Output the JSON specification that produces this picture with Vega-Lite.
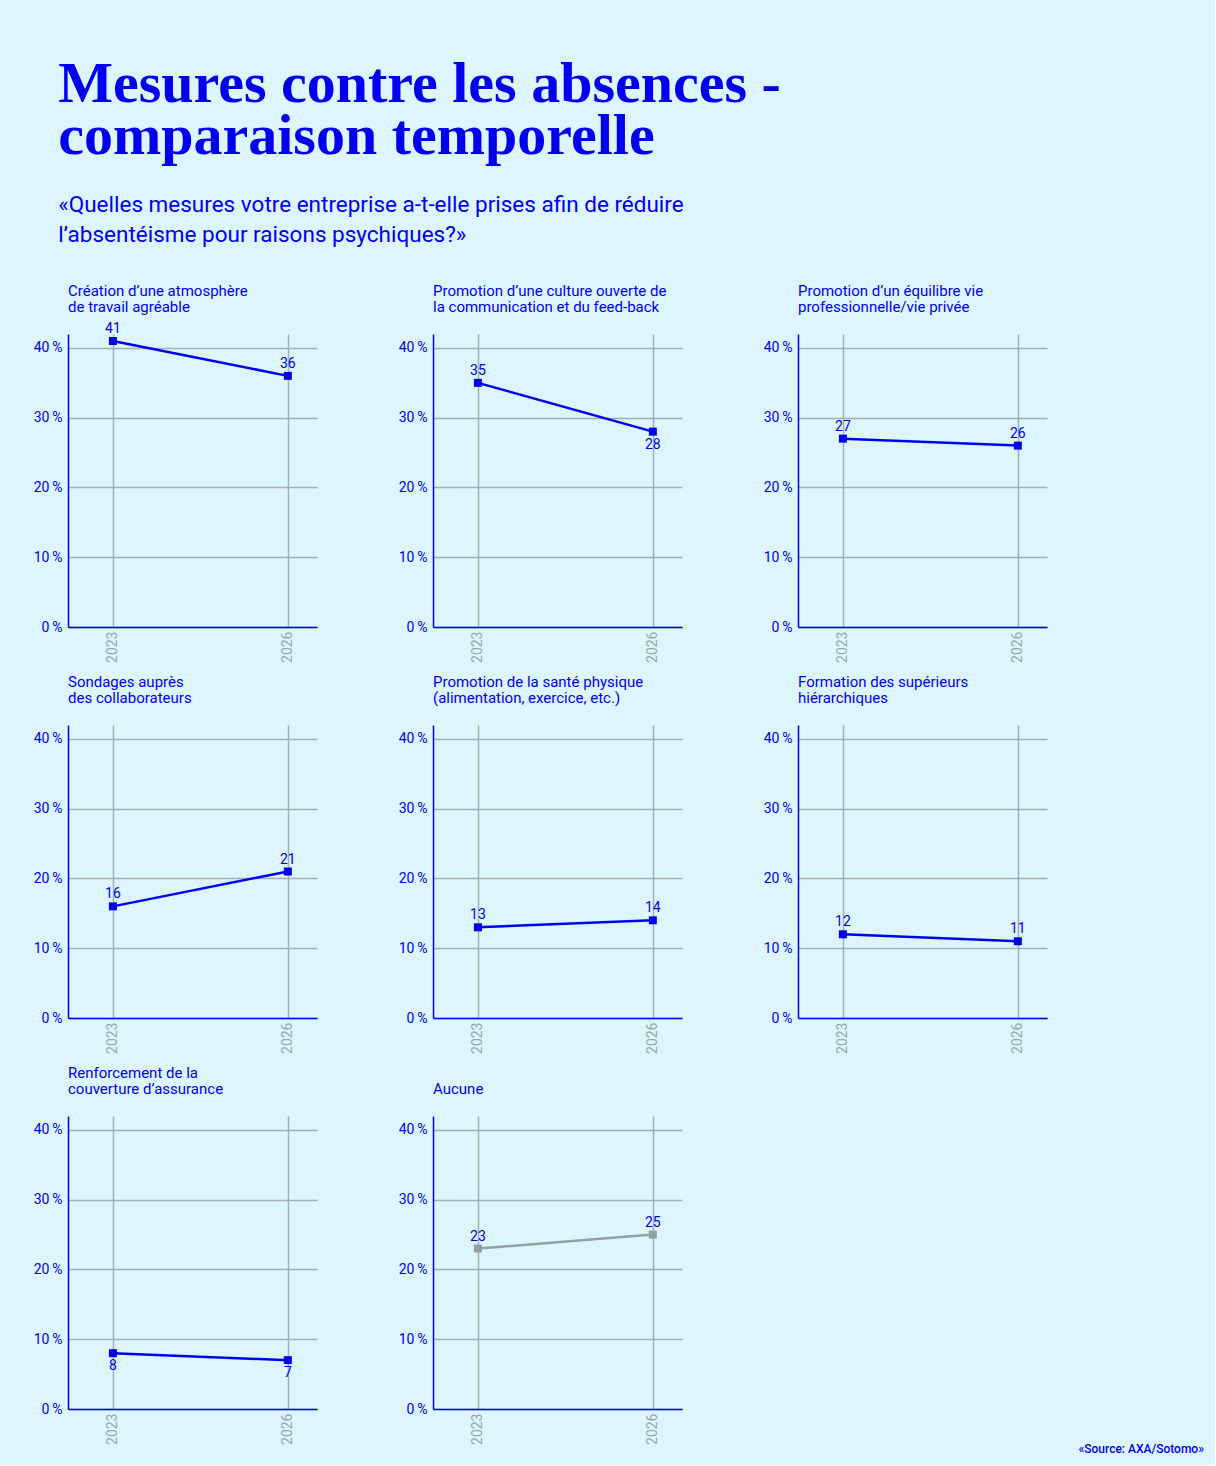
{
  "$schema": "https://vega.github.io/schema/vega-lite/v6.json",
  "background": "#ddf6fd",
  "padding": {"left": 33, "top": 55, "right": 11, "bottom": 9},
  "title": {
    "text": ["Mesures contre les absences -", "comparaison temporelle"],
    "subtitle": ["«Quelles mesures votre entreprise a-t-elle prises afin de réduire", "l’absentéisme pour raisons psychiques?»"],
    "anchor": "start",
    "dx": 25,
    "font": "Liberation Serif",
    "fontSize": 58,
    "fontWeight": "bold",
    "lineHeight": 52,
    "color": "#0000ee",
    "subtitleFont": "Roboto",
    "subtitleFontSize": 22.5,
    "subtitleColor": "#0000ee",
    "subtitleLineHeight": 30,
    "subtitlePadding": 28,
    "offset": 38
  },
  "vconcat": [
    {
      "data": {
        "values": [
          {"measure": "Création d’une atmosphère\nde travail  agréable", "year": 2023, "value": 41},
          {"measure": "Création d’une atmosphère\nde travail  agréable", "year": 2026, "value": 36},
          {"measure": "Promotion d’une culture ouverte de\nla communication et du feed-back", "year": 2023, "value": 35},
          {"measure": "Promotion d’une culture ouverte de\nla communication et du feed-back", "year": 2026, "value": 28},
          {"measure": "Promotion d’un équilibre vie\nprofessionnelle/vie privée", "year": 2023, "value": 27},
          {"measure": "Promotion d’un équilibre vie\nprofessionnelle/vie privée", "year": 2026, "value": 26},
          {"measure": "Sondages auprès\ndes collaborateurs", "year": 2023, "value": 16},
          {"measure": "Sondages auprès\ndes collaborateurs", "year": 2026, "value": 21},
          {"measure": "Promotion de la santé physique\n(alimentation, exercice, etc.)", "year": 2023, "value": 13},
          {"measure": "Promotion de la santé physique\n(alimentation, exercice, etc.)", "year": 2026, "value": 14},
          {"measure": "Formation des supérieurs\nhiérarchiques", "year": 2023, "value": 12},
          {"measure": "Formation des supérieurs\nhiérarchiques", "year": 2026, "value": 11},
          {"measure": "Renforcement de la\ncouverture d’assurance", "year": 2023, "value": 8},
          {"measure": "Renforcement de la\ncouverture d’assurance", "year": 2026, "value": 7},
          {"measure": "Aucune", "year": 2023, "value": 23},
          {"measure": "Aucune", "year": 2026, "value": 25}
        ]
      },
      "title": {
        "text": "«Source: AXA/Sotomo»",
        "orient": "bottom",
        "anchor": "end",
        "dx": 157,
        "offset": 0,
        "font": "Roboto",
        "fontSize": 12,
        "fontWeight": 500,
        "color": "#0000ee"
      },
      "facet": {
        "field": "measure",
        "type": "nominal",
        "sort": [
          "Création d’une atmosphère\nde travail  agréable",
          "Promotion d’une culture ouverte de\nla communication et du feed-back",
          "Promotion d’un équilibre vie\nprofessionnelle/vie privée",
          "Sondages auprès\ndes collaborateurs",
          "Promotion de la santé physique\n(alimentation, exercice, etc.)",
          "Formation des supérieurs\nhiérarchiques",
          "Renforcement de la\ncouverture d’assurance",
          "Aucune"
        ],
        "header": {
          "title": null,
          "labelExpr": "split(datum.value, '\\n')",
          "labelOrient": "top",
          "labelAnchor": "start",
          "labelAlign": "left",
          "labelFont": "Roboto",
          "labelFontSize": 15,
          "labelLineHeight": 16,
          "labelColor": "#0000ee",
          "labelPadding": 5
        }
      },
      "columns": 3,
      "bounds": "flush",
      "spacing": {"column": 116, "row": 98},
      "resolve": {"axis": {"x": "independent", "y": "independent"}},
      "spec": {
        "width": 249,
        "height": 293,
        "encoding": {
          "x": {
            "field": "year",
            "type": "quantitative",
            "scale": {"domain": [2022.23, 2026.5], "nice": false, "zero": false},
            "axis": {
              "title": null,
              "values": [2023, 2026],
              "format": "d",
              "labelAngle": 270,
              "labelColor": "#98a8a8",
              "labelPadding": 4,
              "ticks": false,
              "domainColor": "#0000ee",
              "domainWidth": 1.5,
              "gridColor": "#a2b0b0",
              "gridWidth": 1.5
            }
          },
          "y": {
            "field": "value",
            "type": "quantitative",
            "scale": {"domain": [0, 42], "nice": false},
            "axis": {
              "title": " ",
              "titleAngle": 0,
              "titleX": 0,
              "titleY": -14,
              "titleBaseline": "top",
              "titleOpacity": 0,
              "titleFontSize": 14,
              "values": [0, 10, 20, 30, 40],
              "labelExpr": "datum.value + '\u2009%'",
              "labelColor": "#0000ee",
              "labelPadding": 6,
              "ticks": false,
              "domainColor": "#0000ee",
              "domainWidth": 1.5,
              "gridColor": "#a2b0b0",
              "gridWidth": 1.5
            }
          },
          "color": {
            "condition": {"test": "datum.measure === 'Aucune'", "value": "#8fa1a1"},
            "value": "#0000ee"
          }
        },
        "layer": [
          {"mark": {"type": "line", "strokeWidth": 2.5}},
          {"mark": {"type": "square", "size": 64, "filled": true, "opacity": 1}},
          {
            "transform": [{"filter": "!(indexof(datum.measure, 'Renforcement') === 0 || (indexof(datum.measure, 'Promotion d’une culture') === 0 && datum.year === 2026))"}],
            "mark": {"type": "text", "dy": -12, "font": "Roboto", "fontSize": 14},
            "encoding": {"text": {"field": "value"}, "color": {"value": "#0000ee"}}
          },
          {
            "transform": [{"filter": "indexof(datum.measure, 'Renforcement') === 0 || (indexof(datum.measure, 'Promotion d’une culture') === 0 && datum.year === 2026)"}],
            "mark": {"type": "text", "dy": 13, "font": "Roboto", "fontSize": 14},
            "encoding": {"text": {"field": "value"}, "color": {"value": "#0000ee"}}
          }
        ]
      }
    }
  ],
  "config": {
    "view": {"stroke": null},
    "axis": {"labelFont": "Roboto", "labelFontSize": 14}
  }
}
